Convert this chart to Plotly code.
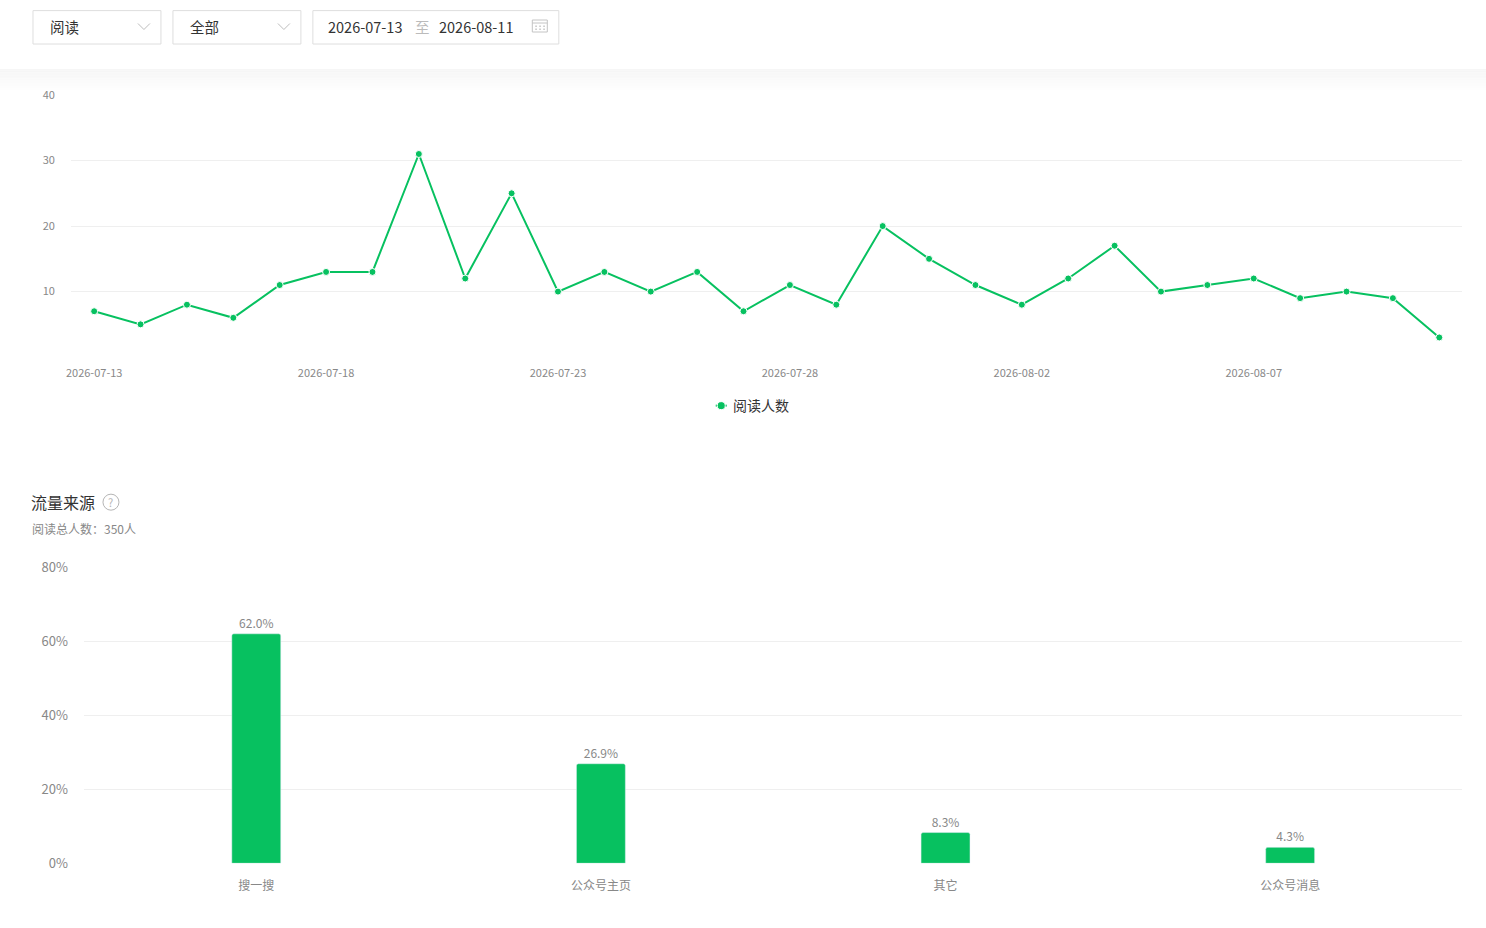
import plotly.graph_objects as go

# ---- data ----
dates = ["2026-07-13", "2026-07-14", "2026-07-15", "2026-07-16", "2026-07-17",
         "2026-07-18", "2026-07-19", "2026-07-20", "2026-07-21", "2026-07-22",
         "2026-07-23", "2026-07-24", "2026-07-25", "2026-07-26", "2026-07-27",
         "2026-07-28", "2026-07-29", "2026-07-30", "2026-07-31", "2026-08-01",
         "2026-08-02", "2026-08-03", "2026-08-04", "2026-08-05", "2026-08-06",
         "2026-08-07", "2026-08-08", "2026-08-09", "2026-08-10", "2026-08-11"]
readers = [7, 5, 8, 6, 11, 13, 13, 31, 12, 25, 10, 13, 10, 13, 7,
           11, 8, 20, 15, 11, 8, 12, 17, 10, 11, 12, 9, 10, 9, 3]
line_ticks = [0, 10, 20, 30, 40]
line_tick_text = ["", "10", "20", "30", "40"]

sources = ["搜一搜", "公众号主页", "其它", "公众号消息"]
shares = [62.0, 26.9, 8.3, 4.3]
bar_ticks = [0, 20, 40, 60, 80]

total_readers = 350

W, H = 1486, 928
GREEN = "#07c160"
FONT = "Noto Sans CJK SC, Noto Sans, sans-serif"

# the capture squeezes the page a little (vertically ~0.979 and shifted 10px down,
# horizontally ~0.997 and shifted ~4px right), so target pixels are mapped back first
SQY, OFFY = 0.9792, 10.0
SQX, OFFX = 0.997, 4.0


def px(x):
    return ((x - OFFX) / SQX) / W


def py(y):
    return 1 - ((y - OFFY) / SQY) / H


fig = go.Figure()

fig.add_trace(go.Scatter(
    x=dates, y=readers, mode="lines+markers", name="阅读人数", showlegend=False,
    line=dict(color=GREEN, width=2),
    marker=dict(color=GREEN, size=7, line=dict(color="white", width=1)),
    xaxis="x", yaxis="y",
))

fig.add_trace(go.Bar(
    x=sources, y=shares, width=0.142, showlegend=False,
    marker=dict(color=GREEN, cornerradius=2),
    text=[f"{v:.1f}%" for v in shares], textposition="outside",
    textfont=dict(size=12, color="#888"), cliponaxis=False,
    xaxis="x2", yaxis="y2",
))

shapes = []
annotations = []

# subtle shadow under the header bar
for i in range(14):
    shade = 246 + int(9 * i / 13)
    shapes.append(dict(type="rect", xref="paper", yref="paper", layer="below",
                       x0=-0.01, x1=1.01, y0=py(69 + (i + 1) * 1.6), y1=py(69 + i * 1.6),
                       line=dict(width=0),
                       fillcolor=f"rgb({shade},{shade},{shade})"))

# header controls
boxes = [(32, 160), (172, 300), (312, 558)]
for x0, x1 in boxes:
    shapes.append(dict(type="rect", xref="paper", yref="paper",
                       x0=px(x0), x1=px(x1), y0=py(44), y1=py(10.6),
                       line=dict(color="#dedede", width=1), fillcolor="white"))

for cx in (143, 283):
    shapes.append(dict(type="path", xref="paper", yref="paper",
                       path=f"M {px(cx - 6)} {py(23.5)} L {px(cx)} {py(29.5)} L {px(cx + 6)} {py(23.5)}",
                       line=dict(color="#bdbdbd", width=1)))

# calendar icon
shapes.append(dict(type="rect", xref="paper", yref="paper",
                   x0=px(531.5), x1=px(546.5), y0=py(32), y1=py(20),
                   line=dict(color="#c4c4c4", width=1)))
shapes.append(dict(type="line", xref="paper", yref="paper",
                   x0=px(531.5), x1=px(546.5), y0=py(23), y1=py(23),
                   line=dict(color="#c4c4c4", width=1)))
for dx in (534.5, 538.5, 542.5):
    for dy in (25.5, 28.5):
        shapes.append(dict(type="rect", xref="paper", yref="paper",
                           x0=px(dx), x1=px(dx + 1.5), y0=py(dy + 1.5), y1=py(dy),
                           line=dict(width=0), fillcolor="#c4c4c4"))

header_texts = [(47, "阅读", "#333"), (187, "全部", "#333"), (325, "2026-07-13", "#333"),
                (412, "至", "#bbb"), (436, "2026-08-11", "#333")]
for x, t, c in header_texts:
    annotations.append(dict(xref="paper", yref="paper", x=px(x), y=py(26),
                            xanchor="left", yanchor="middle", text=t, showarrow=False,
                            font=dict(size=14.5, color=c, family=FONT)))

# legend drawn by hand: short line with a dot, then the label
shapes.append(dict(type="line", xref="paper", yref="paper",
                   x0=px(715), x1=px(726), y0=py(405.5), y1=py(405.5),
                   line=dict(color=GREEN, width=2)))
shapes.append(dict(type="circle", xref="paper", yref="paper",
                   x0=px(716.5), x1=px(724.5), y0=py(409.5), y1=py(401.5),
                   line=dict(color="white", width=1), fillcolor=GREEN))
annotations.append(dict(xref="paper", yref="paper", x=px(730), y=py(405),
                        xanchor="left", yanchor="middle", text="阅读人数", showarrow=False,
                        font=dict(size=14, color="#333", family=FONT)))

# section title
annotations.append(dict(xref="paper", yref="paper", x=px(28), y=py(502),
                        xanchor="left", yanchor="middle", text="流量来源", showarrow=False,
                        font=dict(size=16, color="#333", family=FONT)))
shapes.append(dict(type="circle", xref="paper", yref="paper",
                   x0=px(102), x1=px(118), y0=py(510), y1=py(494),
                   line=dict(color="#b5b5b5", width=1)))
annotations.append(dict(xref="paper", yref="paper", x=px(110), y=py(502),
                        xanchor="center", yanchor="middle", text="?", showarrow=False,
                        font=dict(size=11, color="#b5b5b5", family=FONT)))
annotations.append(dict(xref="paper", yref="paper", x=px(29), y=py(528),
                        xanchor="left", yanchor="middle",
                        text=f"阅读总人数：{total_readers}人", showarrow=False,
                        font=dict(size=12, color="#888", family=FONT)))

fig.update_layout(
    width=W, height=H,
    margin=dict(l=0, r=0, t=0, b=0),
    paper_bgcolor="white", plot_bgcolor="white",
    font=dict(family=FONT, color="#888"),
    shapes=shapes, annotations=annotations,
    showlegend=False,
    xaxis=dict(domain=[px(70), min(1, px(1462))], anchor="y", type="category",
               range=[-0.5, len(dates) - 0.5],
               tickvals=dates[::5], showgrid=False, showline=False, zeroline=False,
               ticks="", ticklabelstandoff=8,
               tickfont=dict(size=11, color="#888")),
    yaxis=dict(domain=[py(357), py(95)], anchor="x", range=[0, 40],
               tickvals=line_ticks, ticktext=line_tick_text,
               showgrid=True, gridcolor="#efefef", gridwidth=1, zeroline=False,
               showline=False, ticks="", ticklabelstandoff=15,
               tickfont=dict(size=11, color="#888")),
    xaxis2=dict(domain=[px(83), min(1, px(1462))], anchor="y2", type="category",
                showgrid=False, showline=False, zeroline=False, ticks="",
                ticklabelstandoff=14, tickfont=dict(size=12, color="#888")),
    yaxis2=dict(domain=[py(863), py(567)], anchor="x2", range=[0, 80],
                tickvals=bar_ticks, ticktext=[f"{v}%" for v in bar_ticks],
                showgrid=True, gridcolor="#efefef", gridwidth=1, zeroline=False,
                showline=False, ticks="", ticklabelstandoff=15,
                tickfont=dict(size=13, color="#888")),
)

pin = ("document.body.style.margin='0';document.body.style.overflow='hidden';"
       "var gd=document.getElementById('{plot_id}');"
       "gd.style.position='fixed';gd.style.left='0';gd.style.top='0';")
fig.write_html("out.html", config={"displayModeBar": False}, post_script=pin)
